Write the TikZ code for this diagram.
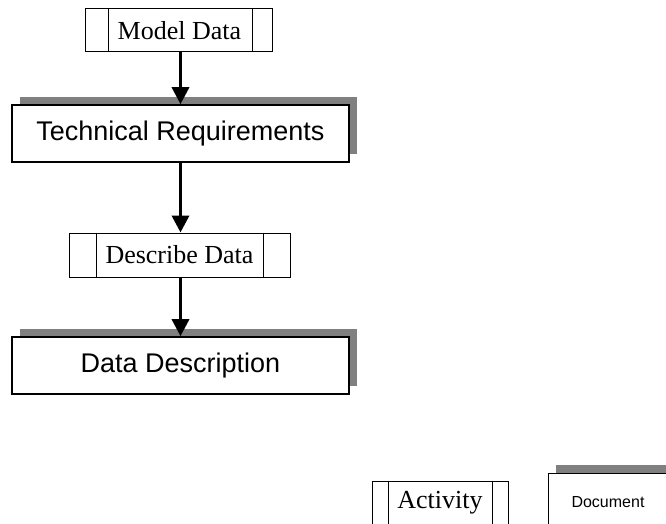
\documentclass[tikz,border=0pt]{standalone}
\usepackage{fontspec}
\setmainfont{Liberation Serif}
\setsansfont{Liberation Sans}
\usetikzlibrary{arrows.meta,shadows}
\definecolor{shadowgray}{HTML}{808080}
\tikzset{
  actbox/.style={draw=black, line width=1pt, rectangle, inner sep=0pt, fill=white,
    font=\rmfamily\fontsize{26}{26}\selectfont},
  docbox/.style={draw=black, line width=1.6pt, rectangle, inner sep=0pt, fill=white,
    font=\sffamily\fontsize{27}{27}\selectfont,
    general shadow={fill=shadowgray, draw=none, shadow xshift=8pt, shadow yshift=8pt}},
  flowarrow/.style={line width=3.5pt, -{Triangle[width=17pt,length=17pt]}},
  innerbar/.style={line width=1pt}
}
\begin{document}
\begin{tikzpicture}[x=1pt,y=-1pt]
\useasboundingbox (0,0) rectangle (666,524);
\clip (0,0) rectangle (666,524);
\fill[white] (0,0) rectangle (666,524);

% Activity boxes
\node[actbox, minimum width=187, minimum height=43] (md) at (179.4,30.5) {Model Data};
\draw[innerbar] ([xshift=23.3]md.north west) -- ([xshift=23.3]md.south west)
                ([xshift=-21.3]md.north east) -- ([xshift=-21.3]md.south east);

\node[actbox, minimum width=221, minimum height=44] (dsc) at (179.5,255) {Describe Data};
\draw[innerbar] ([xshift=27.7]dsc.north west) -- ([xshift=27.7]dsc.south west)
                ([xshift=-27]dsc.north east) -- ([xshift=-27]dsc.south east);

% Document boxes
\node[docbox, minimum width=337, minimum height=57] (tr) at (180.5,133.5) {Technical Requirements};
\node[docbox, minimum width=337, minimum height=57] (dd) at (180.5,365.5) {Data Description};

% Arrows
\draw[flowarrow] (md.south -| tr.north) -- (tr.north);
\draw[flowarrow] (tr.south) -- (dsc.north -| tr.south);
\draw[flowarrow] (dsc.south -| dd.north) -- (dd.north);

% Legend
\node[actbox, minimum width=136, minimum height=44] (act) at (440,503) {Activity};
\draw[innerbar] ([xshift=17]act.north west) -- ([xshift=17]act.south west)
                ([xshift=-16]act.north east) -- ([xshift=-16]act.south east);

\node[docbox, line width=1pt, font=\sffamily\fontsize{16}{16}\selectfont,
      minimum width=120, minimum height=58] (doc) at (608,502) {Document};
\end{tikzpicture}
\end{document}
